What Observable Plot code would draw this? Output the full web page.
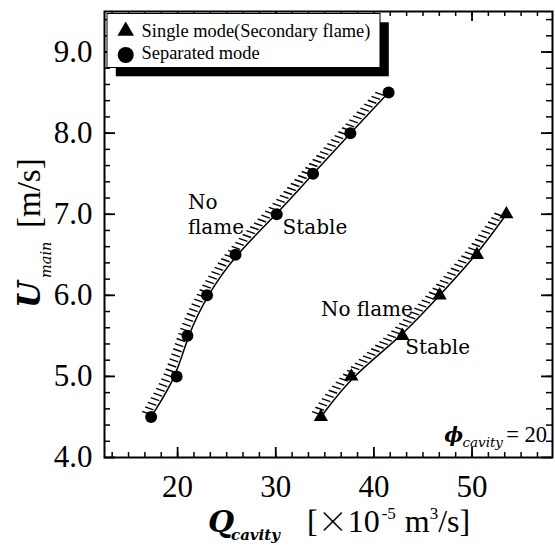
<!DOCTYPE html>
<html><head><meta charset="utf-8">
<script src="https://cdn.jsdelivr.net/npm/d3@7"></script>
<script src="https://cdn.jsdelivr.net/npm/@observablehq/plot@0.6"></script>
<style>body{margin:0;background:#fff} #chart{width:555px;height:545px}</style>
</head><body><div id="chart"></div>
<script>
// ---- data ----
const separatedQ = [17.3, 19.9, 21.0, 23.0, 25.9, 30.1, 33.8, 37.6, 41.5];
const separatedU = [4.5, 5.0, 5.5, 6.0, 6.5, 7.0, 7.5, 8.0, 8.5];
const singleQ = [34.6, 37.7, 42.9, 46.7, 50.5, 53.5];
const singleU = [4.5, 5.0, 5.5, 6.0, 6.5, 7.0];
const xTicks = [20, 30, 40, 50];
const yTicks = [4, 5, 6, 7, 8, 9];
const legendLabels = ["Single mode(Secondary flame)", "Separated mode"];
const noteText = ["No", "flame", "Stable", "No flame", "Stable"];
const noteQ = [21.05, 21.05, 30.7, 34.6, 43.2];
const noteU = [7.07, 6.76, 6.76, 5.75, 5.28];

// ---- layout ----
const W = 555, H = 545, mL = 104, mR = 3, mT = 11, mB = 88;
const xDomain = [12.55, 58.2], yDomain = [4, 9.5];
const innerH = H - mT - mB, innerW = W - mL - mR;
const xMinor = d3.range(-5, 24).map(k => 20 + k * 10 / 6).filter(v => v > xDomain[0] + 0.3 && v < xDomain[1] - 0.3);
const yMinor = d3.range(0, 28).map(k => 4 + k * 0.2).filter(v => v > 4.05 && v < 9.45);

const separated = separatedQ.map((q, i) => ({q, u: separatedU[i]}));
const single = singleQ.map((q, i) => ({q, u: singleU[i]}));
const notes = noteText.map((t, i) => ({t, q: noteQ[i], u: noteU[i]}));

function txt(g, x, y, s, opts = {}) {
  const t = g.append("text").attr("x", x).attr("y", y).attr("fill", "black")
    .attr("text-anchor", opts.anchor || "start")
    .attr("font-family", opts.family || "Liberation Serif")
    .attr("font-size", opts.size || 20);
  if (opts.italic) t.attr("font-style", "italic");
  if (opts.bold) t.attr("font-weight", "bold");
  if (opts.transform) t.attr("transform", opts.transform);
  if (s != null) t.text(s);
  return t;
}

function decorations(index, scales) {
  const x = scales && scales.x ? scales.x : d3.scaleLinear(xDomain, [mL, W - mR]);
  const y = scales && scales.y ? scales.y : d3.scaleLinear(yDomain, [H - mB, mT]);
  const g = d3.create("svg:g");
  // hatching on the no-flame side of each boundary
  const tmp = d3.select(document.body).append("svg").attr("width", 1).attr("height", 1);
  for (const [qs, us] of [[separatedQ, separatedU], [singleQ, singleU]]) {
    const pts = qs.map((q, i) => [x(q), y(us[i])]);
    const p = tmp.append("path").attr("d", d3.line().curve(d3.curveBasis)(pts)).node();
    const L = p.getTotalLength();
    for (let s = 2; s <= L - 1; s += 5.4) {
      const pt = p.getPointAtLength(s);
      g.append("line").attr("x1", pt.x - 1).attr("y1", pt.y - 0.3)
        .attr("x2", pt.x - 9.5).attr("y2", pt.y - 3.3)
        .attr("stroke", "black").attr("stroke-width", 1.4);
    }
  }
  tmp.remove();

  // legend box with shadow
  const lx = mL + 3, ly = mT + 2.5, lw = 273, lh = 54;
  g.append("rect").attr("x", lx + 8.8).attr("y", ly + 8.8).attr("width", lw).attr("height", lh).attr("fill", "black");
  g.append("rect").attr("x", lx).attr("y", ly).attr("width", lw).attr("height", lh)
    .attr("fill", "white").attr("stroke", "black").attr("stroke-width", 1);
  const sx = lx + 18.7;
  g.append("path").attr("transform", `translate(${sx},${ly + 17.5})`)
    .attr("d", d3.symbol(d3.symbolTriangle, 120)()).attr("fill", "black");
  g.append("circle").attr("cx", sx).attr("cy", ly + 41.5).attr("r", 8).attr("fill", "black");
  legendLabels.forEach((t, i) => txt(g, lx + 34.6, ly + 23 + i * 22, t, {size: 18.4}));

  // phi label
  txt(g, 547, 442, "= 20", {anchor: "end", size: 22.5});
  txt(g, 503, 447, "cavity", {anchor: "end", size: 13.5, italic: true, family: "DejaVu Serif"});
  txt(g, 463, 442, "\u03D5", {anchor: "end", size: 20, italic: true, bold: true, family: "DejaVu Serif"});

  // x title
  txt(g, 208, 532, "Q", {size: 30, italic: true, bold: true, family: "DejaVu Serif"});
  txt(g, 231, 540, "cavity", {size: 15, italic: true, bold: true, family: "DejaVu Serif"});
  const xt = txt(g, 307, 532, null, {size: 32});
  xt.append("tspan").text("[");
  xt.append("tspan").attr("font-family", "Noto Sans CJK JP").attr("font-weight", "300").attr("font-size", 30).text("\u00D7");
  xt.append("tspan").text("10");
  xt.append("tspan").attr("font-size", 17).attr("dy", -13).attr("dx", 2).text("-5");
  xt.append("tspan").attr("dy", 13).attr("dx", 9).text("m");
  xt.append("tspan").attr("font-size", 17).attr("dy", -13).text("3");
  xt.append("tspan").attr("dy", 13).text("/s]");

  // y title (rotated)
  txt(g, 0, 0, "U", {size: 31, italic: true, bold: true, family: "DejaVu Serif", transform: "translate(40,308) rotate(-90)"});
  txt(g, 0, 0, "main", {size: 14.5, italic: true, family: "DejaVu Serif", transform: "translate(51,278) rotate(-90)"});
  txt(g, 0, 0, "[m/s]", {size: 33, transform: "translate(40,228) rotate(-90)"});
  return g.node();
}

const chart = Plot.plot({
  width: W, height: H,
  marginLeft: mL, marginRight: mR, marginTop: mT, marginBottom: mB,
  x: {domain: xDomain}, y: {domain: yDomain},
  style: {fontFamily: "Liberation Serif", background: "white", color: "black", overflow: "visible"},
  marks: [
    // inward ticks on all four sides
    Plot.ruleX(xMinor, {insetTop: innerH - 5, stroke: "black", strokeWidth: 1.5}),
    Plot.ruleX(xMinor, {insetBottom: innerH - 5, stroke: "black", strokeWidth: 1.5}),
    Plot.ruleX(xTicks, {insetTop: innerH - 10, stroke: "black", strokeWidth: 1.8}),
    Plot.ruleX(xTicks, {insetBottom: innerH - 10, stroke: "black", strokeWidth: 1.8}),
    Plot.ruleY(yMinor, {insetRight: innerW - 6, stroke: "black", strokeWidth: 1.5}),
    Plot.ruleY(yMinor, {insetLeft: innerW - 6, stroke: "black", strokeWidth: 1.5}),
    Plot.ruleY(yTicks, {insetRight: innerW - 11, stroke: "black", strokeWidth: 1.8}),
    Plot.ruleY(yTicks, {insetLeft: innerW - 11, stroke: "black", strokeWidth: 1.8}),
    Plot.axisX(xTicks, {tickSize: 0, tickPadding: 17, fontSize: 31, fill: "black", tickFormat: d => String(d), label: null}),
    Plot.axisY(yTicks, {tickSize: 0, tickPadding: 12, fontSize: 31, fill: "black", tickFormat: d3.format(".1f"), label: null}),
    Plot.line(separated, {x: "q", y: "u", curve: "basis", stroke: "black", strokeWidth: 1.5}),
    Plot.line(single, {x: "q", y: "u", curve: "basis", stroke: "black", strokeWidth: 1.5}),
    Plot.dot(separated, {x: "q", y: "u", r: 6, fill: "black", symbol: "circle"}),
    Plot.dot(single, {x: "q", y: "u", r: 5.3, fill: "black", symbol: "triangle"}),
    Plot.text(notes, {x: "q", y: "u", text: "t", textAnchor: "start", lineAnchor: "bottom", fontSize: 20, fontFamily: "DejaVu Serif", fill: "black"}),
    Plot.frame({stroke: "black", strokeWidth: 2}),
    decorations
  ]
});
document.getElementById("chart").append(chart);
</script>
</body></html>
